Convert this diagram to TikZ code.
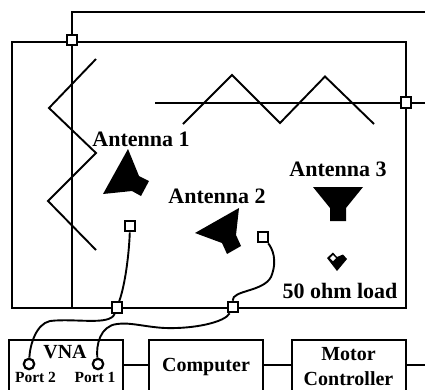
\documentclass[tikz,border=0pt]{standalone}
\usepackage{fontspec}
\setmainfont{Liberation Serif}
\tikzset{
  wire/.style={line width=2pt,black},
  thin wire/.style={line width=1.9pt,black},
  joint/.style={draw=black,fill=white,line width=2.2pt,minimum size=10.5pt,inner sep=0pt,rectangle},
  port/.style={draw=black,fill=white,line width=2.2pt,minimum size=10.5pt,inner sep=0pt,circle},
  lab/.style={font=\bfseries\fontsize{22}{24}\selectfont,inner sep=0pt,text=black},
  small lab/.style={font=\bfseries\fontsize{15.5}{17}\selectfont,inner sep=0pt},
  unit/.style={draw=black,line width=2pt,fill=white,minimum height=54pt,minimum width=114pt,inner sep=0pt,align=center,font=\bfseries\fontsize{20}{25}\selectfont},
}
\begin{document}
\begin{tikzpicture}[x=1pt,y=-1pt]
\useasboundingbox (0,0) rectangle (425,389);
\clip (0,0) rectangle (425,389);
\draw[wire] (11.5,41.5) rectangle (406,308);
\coordinate (tr) at (425,11.5);
\coordinate (re) at (425,102.5);
\coordinate (hs) at (155,102.5);
\coordinate (vb) at (72,308);
\draw[wire] (vb) -- (72,11.5) -- (tr);
\draw[wire] (hs) -- (re);
\node[joint] (j1) at (72,40) {};
\node[joint] (j2) at (406,102.5) {};
\draw[thin wire] (183,124) -- (232,75) -- (280,123) -- (325,76.5) -- (374,124);
\draw[thin wire] (96,59) -- (49,108) -- (96,153) -- (48,201) -- (96,250);
\fill (128,149) -- (139,176) -- (149,181) -- (141,196) -- (132,191) -- (103,194) -- cycle;
\fill (239,208) -- (195,233) -- (222,243) -- (227,254) -- (241,246) -- (236,235) -- cycle;
\fill (313,187) -- (363,187) -- (346,208) -- (346,221) -- (330,221) -- (330,208) -- cycle;
\fill (327,258) -- (333,252.5) -- (337,257) -- (343,254.5) -- (347,259) -- (337,271) -- cycle;
\fill[white] (330,258) -- (333,255) -- (336,258) -- (333,261) -- cycle;
\node[lab] at (141,139) {Antenna 1};
\node[lab] at (217,196) {Antenna 2};
\node[lab] at (338,169) {Antenna 3};
\node[lab] at (340,291) {50 ohm load};
\node[unit,anchor=north west] (vna) at (8,339) {};
\node[unit,anchor=north west] (comp) at (148,339) {Computer};
\node[unit,anchor=north west] (mot) at (290.5,339) {Motor\\Controller};
\draw[wire] (vna.east |- 0,365) -- (comp.west |- 0,365);
\draw[wire] (comp.east |- 0,365) -- (mot.west |- 0,365);
\coordinate (mr) at (425,365);
\draw[wire] (mot.east |- mr) -- (mr);
\node[lab,font=\bfseries\fontsize{20}{22}\selectfont] at (65,352) {VNA};
\node[small lab] at (35.5,377) {Port 2};
\node[small lab] at (95,377) {Port 1};
\node[port] (p2) at (29,364) {};
\node[port] (p1) at (98,364) {};
\node[joint] (a1) at (130,226) {};
\node[joint] (a2) at (263,237) {};
\node[joint] (b1) at (117,307.5) {};
\node[joint] (b2) at (233,307) {};
\draw[thin wire] (a1) .. controls (129,255) and (125,285) .. (b1);
\draw[thin wire] (a2) .. controls (272,248) and (278,260) .. (271,277) .. controls (263,292) and (232,290) .. (b2);
\draw[thin wire] (b1) .. controls (110,326) and (75,318) .. (50,321) .. controls (36,324) and (30,345) .. (p2);
\draw[thin wire] (b2) .. controls (225,322) and (195,329) .. (165,328) .. controls (145,327) and (130,322) .. (117,324) .. controls (100,326) and (96,345) .. (p1);
\end{tikzpicture}
\end{document}
